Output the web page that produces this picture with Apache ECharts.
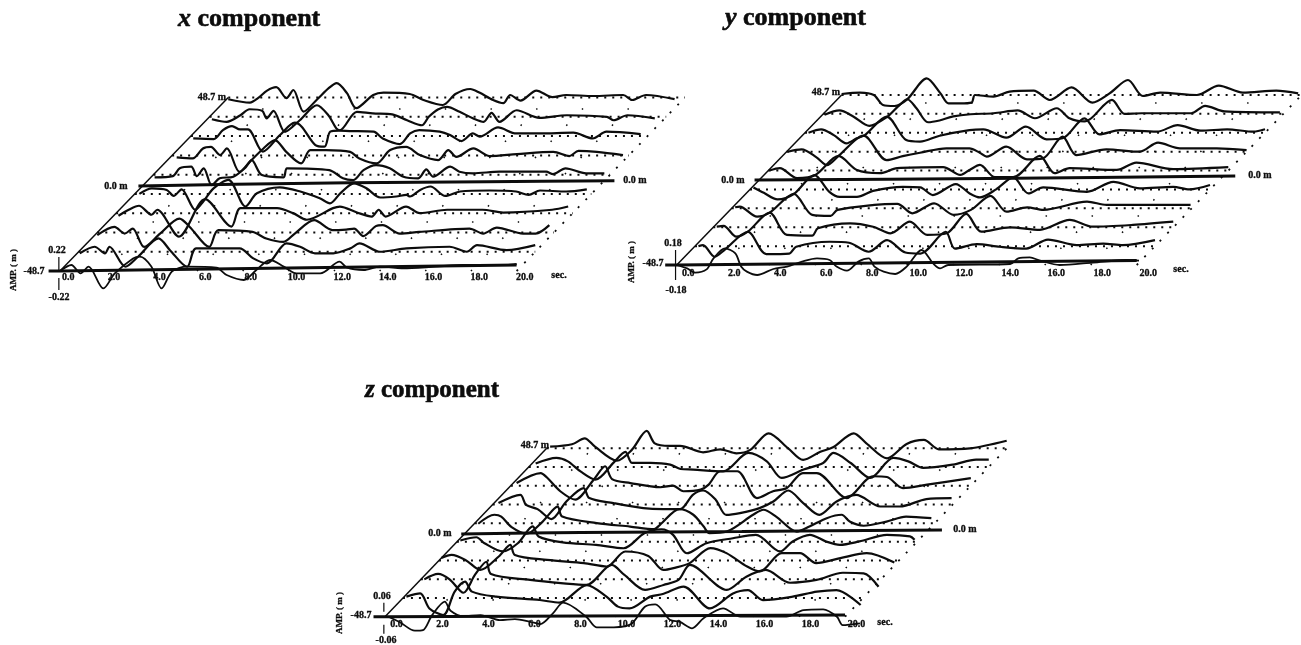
<!DOCTYPE html>
<html><head><meta charset="utf-8">
<style>html,body{margin:0;padding:0;background:#fff}#c{width:1301px;height:645px}</style>
<script src="https://cdn.jsdelivr.net/npm/echarts@6/dist/echarts.min.js"></script>
</head><body><div id="c"></div>
<script>
// Depth of each trace (m), bottom to top
const depths = [-48.7,-37.9,-27.1,-16.2,-5.4,0,5.4,16.2,27.1,37.9,48.7];
const timeTicks = [0,2,4,6,8,10,12,14,16,18,20];
// Each trace: [time s, amplitude in % of the panel's full scale]
const traceX0=[[0,0],[.5,30],[.9,-12],[1.25,22],[1.9,-87],[2.4,-12],[3.2,63],[3.5,72],[4,22],[4.45,-87],[4.9,-3],[5.55,22],[6.85,17],[7.3,-20],[8.05,-45],[8.6,5],[9.2,55],[9.8,22],[10.35,-12],[11.4,-12],[12.25,47],[12.55,18],[13.3,5],[14,22],[15.2,13],[17.65,30],[19.55,30],[20,35]];
const traceX1=[[.05,-8],[.7,25],[1.15,-8],[1.35,25],[2.05,-75],[2.6,-25],[3.5,67],[4,8],[4.75,-75],[5.15,17],[7.05,17],[7.65,-33],[8.25,-58],[9.1,42],[9.7,25],[10.35,-8],[11.15,-8],[11.9,17],[12.3,42],[13.2,0],[14.35,17],[16.25,25],[17,0],[17.45,33],[18.75,8],[20,33]];
const traceX2=[[0,-13],[.75,28],[1.2,-5],[1.55,20],[2.05,-72],[2.75,-5],[3.6,70],[4.05,28],[4.9,-72],[5.3,12],[6.8,3],[7.4,-30],[8.15,-47],[8.65,-5],[9.5,62],[10.3,12],[10.9,15],[11.25,20],[11.65,-18],[12.2,32],[12.5,37],[13.25,-5],[14.1,3],[16.3,20],[16.9,-5],[17.5,25],[18.65,-5],[19.2,-5],[19.8,37]];
const traceX3=[[.1,-13],[.55,17],[1,37],[1.55,-8],[1.8,17],[2.75,-117],[3.9,70],[5.05,-67],[5.45,25],[7.05,25],[7.75,0],[8.35,-33],[9.5,25],[9.8,33],[10.55,3],[11.2,-17],[11.5,17],[11.8,-17],[12.7,33],[13.3,0],[14.5,17],[16.05,17],[16.95,3],[19.1,17],[19.8,33]];
const traceX4=[[.2,0],[.75,28],[1.4,20],[1.7,-10],[2.05,23],[2.65,-80],[3,-38],[3.45,28],[4.1,70],[4.85,-63],[5.35,3],[6.35,33],[7.25,12],[8.1,-22],[8.55,-47],[9,3],[9.6,53],[10.15,28],[10.75,-18],[11.45,-13],[11.9,-5],[12.05,-13],[12.5,20],[12.95,37],[13.6,-10],[14.25,12],[15.55,17],[16.7,12],[17.25,-5],[17.75,17],[18.9,12],[19.8,23]];
const traceX5=[[-.25,-8],[4,0],[9,8],[15,13],[20.6,18]];
const traceX6=[[.05,-13],[.85,-7],[1.15,32],[1.65,40],[1.9,-7],[2.2,32],[2.55,-52],[2.9,-18],[3.5,-10],[4,32],[4.3,73],[4.75,-2],[5.7,-13],[5.85,32],[7.7,23],[8.3,-18],[8.75,-27],[9.2,23],[9.75,48],[10.35,32],[10.95,-10],[11.6,-18],[11.95,27],[12.25,-10],[13,40],[13.4,15],[14,7],[15.15,15],[17.2,15],[17.5,3],[18.05,32],[18.95,7],[19.75,7]];
const traceX7=[[.2,-10],[.9,-15],[1.35,35],[1.7,43],[2.1,2],[2.4,35],[2.95,-82],[3.4,-32],[4,35],[4.5,77],[5,18],[5.65,-40],[6.05,27],[6.75,27],[7.8,18],[8.2,-15],[8.95,-40],[9.55,27],[10.25,43],[10.85,2],[11.65,-23],[12.1,27],[12.45,-7],[13.2,35],[13.9,-3],[15.1,7],[16.7,18],[17.4,-3],[17.8,23],[18.6,18],[19.75,2]];
const traceX8=[[.1,-12],[1,-15],[1.4,30],[1.8,50],[2.15,33],[2.5,33],[3.15,-78],[3.9,5],[4.55,67],[4.85,47],[5.45,-45],[5.85,-53],[6.1,22],[6.5,27],[6.95,25],[8,22],[8.4,-12],[9.15,-40],[9.6,13],[10,30],[10.9,22],[11.35,5],[11.85,-25],[12.35,13],[12.65,-3],[13.45,43],[14.25,13],[15.3,13],[16.75,17],[17.6,-12],[18.2,22],[19.7,10]];
const traceX9=[[.1,-12],[.75,-25],[1.35,8],[1.75,38],[2.3,30],[2.5,-8],[2.8,30],[3.3,-75],[3.95,-17],[4.7,58],[5.2,8],[5.55,-58],[5.7,-67],[6.45,25],[7.15,17],[8,12],[8.65,-17],[9.3,-42],[9.6,0],[10,37],[10.4,50],[10.95,25],[11.55,-8],[12,-25],[12.35,20],[12.7,-25],[13.45,33],[14.45,-5],[15.65,8],[17.4,0],[17.7,-17],[18.3,8],[19.5,-8]];
const traceX10=[[0,-8],[.95,-25],[1.3,-3],[1.7,35],[2.1,52],[2.55,-3],[2.85,38],[3.3,-70],[3.9,-8],[4.4,47],[4.75,72],[5.2,22],[5.6,-53],[6.35,13],[6.8,25],[7.95,18],[8.55,-12],[9.4,-37],[9.95,18],[10.6,43],[11,25],[11.6,-12],[12.05,-28],[12.35,13],[12.8,-15],[13.5,35],[14.2,2],[14.8,13],[16,8],[17.3,13],[17.7,-12],[18.3,13],[19.55,-8]];

const traceY0=[[0,0],[.45,-17],[.8,-38],[1.3,-22],[1.6,33],[2.1,83],[2.55,58],[2.8,-8],[3.05,-33],[3.5,-50],[4.2,-20],[4.8,-8],[5.45,17],[6.1,33],[6.65,25],[6.95,-8],[7.4,-28],[7.9,17],[8.35,33],[8.6,-8],[9,-33],[9.5,-45],[10,-8],[10.65,75],[11.15,8],[11.45,-17],[11.8,0],[14.5,5],[14.85,33],[15.35,38],[15.8,22],[16.65,0],[18.1,12],[19.55,25],[20.1,22]];
const traceY1=[[.15,0],[.35,5],[.85,-53],[1.3,-17],[2.3,72],[3.1,-40],[4.1,-37],[4.4,-3],[5.85,22],[6.7,17],[7.55,-28],[8.35,30],[9.15,-32],[9.8,-37],[10.9,72],[11.3,-12],[12.25,10],[13.25,-3],[14.4,-12],[15.35,33],[16.6,5],[17.75,13],[18.6,5],[20,30]];
const traceY2=[[.15,3],[.45,7],[1,-47],[1.5,-22],[2.45,73],[3.2,-38],[4.3,-42],[4.55,-5],[5.95,20],[6.95,3],[7.7,-30],[8.55,28],[9.3,-38],[10.15,-30],[11,67],[11.65,-22],[12.9,0],[14.2,-13],[15.5,37],[16.5,3],[18.25,12],[20,28]];
const traceY3=[[.15,5],[.35,8],[1.1,-42],[1.65,-22],[2.7,72],[3.5,-33],[4.3,-38],[4.6,-8],[6.2,17],[7.2,22],[7.85,-25],[8.8,25],[9.65,-33],[10.4,-8],[11.25,62],[11.95,-17],[12.85,5],[13.55,-8],[15.45,33],[16.3,17],[18.05,17],[19.95,17]];
const traceY4=[[.15,10],[.6,-17],[1.2,-50],[1.9,-23],[2.8,72],[3.45,-12],[3.9,-37],[4.65,-37],[5.35,-7],[6.65,13],[7.4,10],[7.95,-28],[8.95,27],[9.55,-20],[10,-40],[10.7,0],[11.45,60],[12.1,-20],[12.75,10],[14.65,-12],[15.8,38],[16.95,5],[18.4,13],[19.1,0],[20,22]];
const traceY5=[[-.2,0],[10,8],[20.7,20]];
const traceY6=[[.05,0],[.5,12],[1.25,-38],[2.05,-22],[3.05,73],[3.85,3],[4.85,-13],[5.6,12],[7.6,17],[8.35,-22],[8.75,3],[9.2,28],[9.85,-33],[10.65,-33],[11.8,73],[12.45,-13],[13.1,12],[15.15,3],[16,40],[17.6,7],[20,17]];
const traceY7=[[.05,0],[.65,12],[1.3,-28],[1.75,-67],[2.25,-22],[3.35,80],[4.35,-42],[5.05,-22],[5.8,-5],[6.95,17],[7.95,17],[8.4,-5],[8.7,-25],[9.55,25],[10.45,-38],[11.15,-33],[12,75],[12.6,-17],[13.9,12],[15.35,0],[16.15,45],[17.1,17],[18.7,17],[20,8]];
const traceY8=[[.15,0],[.7,17],[1.25,-12],[1.8,-53],[2.25,-28],[2.6,-12],[3.55,80],[4.4,-37],[5,-45],[5.85,-15],[7.15,13],[7.75,17],[8.75,-25],[9.6,30],[10.5,-33],[11.2,-28],[12.15,72],[12.8,-8],[13.7,13],[15.3,5],[16.2,38],[17.2,10],[18.35,17],[19.5,5],[20,17]];
const traceY9=[[.05,-5],[.7,17],[1.3,-13],[2,-60],[2.75,-17],[3.25,37],[3.65,73],[4.05,28],[4.55,-42],[5.05,-33],[5.65,-13],[6.4,-2],[7.4,3],[8.45,17],[9.2,-22],[10.15,28],[10.7,-22],[11.35,-38],[11.65,-22],[12.55,70],[13.1,0],[13.85,3],[16,3],[16.6,40],[17.45,12],[19.85,7]];
const traceY10=[[0,5],[.8,12],[1.4,0],[1.8,-50],[2.3,-55],[2.85,-22],[3.7,83],[4.3,8],[4.65,-42],[5.15,-42],[5.65,-38],[5.8,0],[6.6,-8],[7.3,17],[8.35,22],[9.05,-25],[10,38],[10.9,-38],[11.65,8],[12.45,75],[13.1,-5],[13.85,12],[15.45,0],[16.4,47],[17.45,12],[18.9,22],[19.85,8]];

const traceZ0=[[.15,0],[.65,-28],[1.3,-70],[1.65,-67],[2.05,8],[2.6,75],[2.85,30],[3.4,3],[4.15,8],[5,-17],[5.65,-12],[6.3,-25],[6.75,-37],[7.3,17],[7.75,70],[8.75,0],[9.2,-53],[9.95,-53],[10.7,-37],[11.3,50],[11.75,62],[12.4,-17],[12.8,-25],[13.35,-58],[13.85,-8],[14.7,42],[15.45,0],[17.45,0],[18.2,33],[19.05,37],[19.65,0],[19.9,-42],[20.65,-33]];
const traceZ1=[[.15,7],[.75,23],[1.15,-52],[1.75,-85],[2.25,32],[2.7,82],[3,32],[4.05,7],[5.95,-10],[6.8,-23],[8,65],[8.85,7],[9.35,-43],[9.85,-52],[10.75,7],[11.3,20],[12.2,57],[13.35,-52],[14.35,23],[15,40],[15.65,-10],[16.95,7],[18,32],[18.85,40],[19.9,-35]];
const traceZ2=[[.15,0],[.75,27],[1.25,0],[1.85,-67],[2.35,22],[2.85,88],[3.05,27],[4.75,-3],[6.2,-20],[7.2,-28],[8.3,72],[8.85,22],[9.75,-53],[10.55,-28],[11.2,-3],[11.7,72],[13.3,-53],[14.15,13],[15,47],[16.05,-17],[17.2,-3],[18.35,33],[19.25,30],[19.9,-37]];
const traceZ3=[[.1,12],[.55,28],[1.15,3],[1.8,-47],[2.6,20],[3.1,78],[3.3,28],[4.7,3],[6.3,-13],[7.3,-30],[8.1,45],[9.1,23],[9.75,-47],[10.2,-38],[10.9,-13],[11.8,62],[12.5,37],[13.4,-30],[13.95,-55],[14.9,37],[15.7,37],[16.4,-13],[17.45,12],[18.6,37],[19.8,-10]];
const traceZ4=[[.15,7],[.85,23],[1.2,-7],[2,-48],[2.65,-7],[3.3,77],[3.55,27],[4.6,-3],[6.05,-15],[7.25,-32],[8.15,43],[8.9,63],[9.4,35],[10,-57],[10.85,-7],[12,18],[13,35],[14.05,-48],[14.6,2],[15.35,35],[16.05,2],[16.65,-15],[17.5,2],[18.7,35],[19.7,27],[19.9,10]];
const traceZ5=[[-.2,-7],[5,0],[12,5],[20.7,13]];
const traceZ6=[[.15,-3],[.85,42],[1.15,33],[1.6,-20],[2.25,-53],[2.95,8],[3.6,83],[3.8,33],[5.3,0],[6.75,-17],[7.8,-30],[8.05,-8],[8.9,70],[9.5,42],[9.95,-17],[10.2,-50],[10.95,-42],[12.1,42],[12.55,67],[13.1,33],[14,-42],[14.55,-17],[15.3,25],[15.95,42],[16.3,8],[16.9,-13],[17.9,8],[18.75,33],[19.85,25]];
const traceZ7=[[.25,7],[1.2,48],[1.45,-2],[1.95,-23],[2.55,-73],[3.2,15],[3.95,82],[4.2,32],[5.25,7],[6.55,-18],[7.4,-23],[8.15,-23],[8.7,48],[9.15,70],[9.7,23],[10.15,-52],[10.75,-43],[11.6,-18],[12.2,15],[12.85,70],[13.5,7],[14.2,-52],[14.95,15],[15.8,48],[16.85,-10],[17.7,-10],[18.85,27],[19.95,32]];
const traceZ8=[[.25,13],[1.3,63],[1.55,43],[2.15,-28],[2.8,-70],[3.6,30],[4.1,97],[4.4,33],[5.2,13],[6.5,-8],[7.05,0],[7.5,-28],[8.25,-20],[8.6,5],[9.1,72],[9.85,72],[10.7,-62],[11.4,-28],[12,-12],[12.7,63],[13.3,63],[14.6,-62],[15.75,47],[16.35,43],[17.05,-12],[18.1,5],[20,38]];
const traceZ9=[[.3,17],[1.2,45],[1.7,28],[2.25,-22],[2.9,-63],[3.7,23],[4.2,75],[4.5,20],[5.3,20],[6.15,12],[6.6,-10],[7.15,-13],[8.45,-22],[9.55,70],[10.35,28],[11,-55],[11.95,-13],[12.8,20],[13.25,70],[14,20],[14.85,-55],[15.85,45],[16.5,28],[17.15,-5],[18.45,12],[19.45,37],[20,37]];
const traceZ10=[[.15,8],[1.1,20],[1.65,50],[2.1,8],[3.05,-62],[3.7,-8],[4.35,87],[4.7,25],[5.35,12],[5.8,12],[6.8,-20],[7.55,-5],[8.25,-25],[8.85,-8],[9.65,75],[10.5,0],[11.15,-58],[11.9,-17],[12.45,5],[13.35,75],[13.9,25],[14.8,-50],[15.65,22],[16.4,42],[17.05,-5],[18.4,0],[20,38]];

const tracesX=[traceX0,traceX1,traceX2,traceX3,traceX4,traceX5,traceX6,traceX7,traceX8,traceX9,traceX10];
const tracesY=[traceY0,traceY1,traceY2,traceY3,traceY4,traceY5,traceY6,traceY7,traceY8,traceY9,traceY10];
const tracesZ=[traceZ0,traceZ1,traceZ2,traceZ3,traceZ4,traceZ5,traceZ6,traceZ7,traceZ8,traceZ9,traceZ10];

const INK='#0c0c0c', FONT='"Liberation Serif","Times New Roman",serif';
const panels=[
 {traces:tracesX,startX:60,baseY:271,pps:22.83,lead:.36,shearT:7.37,shearA:867,tilt:30,margin:1,tmax:30,tick:[[70,0],[-35,-95]]},
 {traces:tracesY,startX:676.7,baseY:265,pps:23,lead:.5,shearT:7.17,shearA:850,tilt:22,margin:3,tmax:26.6,tick:[[75,-75]]},
 {traces:tracesZ,startX:385,baseY:616.7,pps:23,lead:.5,shearT:7.03,shearA:842,tilt:8,margin:3,tmax:30,tick:[[70,25],[-40,-85]]}
];
const grids=[],xAxes=[],yAxes=[],series=[];
const AMIN=0,AMAX=1000,TMIN=-2;
panels.forEach((p,i)=>{
  const frac=d=>(d+48.7)/97.4;
  const place=(t,a,d)=>[+(t-p.lead+p.shearT*frac(d)).toFixed(3),+(a+p.shearA*frac(d)).toFixed(2)];
  grids.push({left:p.startX+(p.lead+TMIN)*p.pps,width:(p.tmax-TMIN)*p.pps,top:p.baseY-AMAX/5,height:(AMAX-AMIN)/5,containLabel:false});
  xAxes.push({type:'value',gridIndex:i,min:TMIN,max:p.tmax,splitLine:{show:false},axisTick:{show:false},axisLine:{show:false},
    axisLabel:{customValues:timeTicks,formatter:v=>v.toFixed(1),margin:p.margin,fontFamily:FONT,fontSize:10,fontWeight:'bold',color:INK,textBorderColor:INK,textBorderWidth:.3,hideOverlap:false}});
  yAxes.push({type:'value',gridIndex:i,min:AMIN,max:AMAX,show:false,splitLine:{show:false}});
  const add=(data,style,name)=>series.push({type:'line',name,xAxisIndex:i,yAxisIndex:i,data,showSymbol:false,silent:true,animation:false,clip:false,connectNulls:false,...style});
  depths.forEach((d,k)=>{ if(k!==0&&k!==5) add([place(0,0,d),place(20,0,d)],{lineStyle:{color:INK,width:2,type:[2,6]}},'zero'); });
  timeTicks.slice(1,-1).forEach(t=>add([place(t,0,depths[0]),place(t,0,depths[10])],{lineStyle:{color:INK,width:1.5,type:[1.5,21]}},'tick diagonal'));
  add([place(20,0,depths[0]),place(20,0,depths[10])],{lineStyle:{color:INK,width:1.8,type:[2,9]}},'far edge');
  add([place(0,0,depths[0]),place(0,0,depths[10])],{lineStyle:{color:INK,width:1.5}},'near edge');
  add([place(-.5,0,depths[0]),place(0,0,depths[0]),place(20,p.tilt,depths[0])],{lineStyle:{color:INK,width:3}},'front baseline');
  p.traces.forEach((tr,k)=>add(tr.map(([t,a])=>place(t,a,depths[k])),{smooth:.3,lineStyle:{color:INK,width:k===5?3:(k===0?1.8:2.2)}},'depth '+depths[k]));
  const tk=[]; p.tick.forEach(([a,b],j)=>{ if(j) tk.push([null,null]); tk.push(place(-.05,a,depths[0]),place(-.05,b,depths[0])); });
  add(tk,{lineStyle:{color:INK,width:1.2}},'amplitude tick');
});
const txt=(x,y,s,o={})=>({type:'text',x,y,rotation:o.rot||0,silent:true,style:{text:s,fill:INK,stroke:INK,lineWidth:.3,font:`bold ${o.size||10}px ${FONT}`,textAlign:o.align||'center',textVerticalAlign:'middle'}});
const labels=[
 [212,97,'48.7 m'],[116,186,'0.0 m'],[635,180,'0.0 m'],[34,271,'-48.7'],[57,250,'0.22'],[59,297,'-0.22'],[559,275,'sec.'],
 [826,92,'48.7 m'],[733,180,'0.0 m'],[1260,175,'0.0 m'],[653,263,'-48.7'],[673,243,'0.18'],[676,290,'-0.18'],[1181,269,'sec.'],
 [535,445,'48.7 m'],[440,533,'0.0 m'],[965,529,'0.0 m'],[361,615,'-48.7'],[382,596,'0.06'],[386,640,'-0.06'],[885,622,'sec.']
];
const mkTitle=(letter,left,top,size)=>{const f={fontFamily:FONT,fontSize:size,fontWeight:'bold',color:INK,textBorderColor:INK,textBorderWidth:.6};return {text:`{i|${letter}} component`,left,top,padding:0,textStyle:{...f,rich:{i:{...f,fontStyle:'italic'}}}};};
const chart=echarts.init(document.getElementById('c'),null,{renderer:'canvas'});
chart.setOption({
  backgroundColor:'#fff',animation:false,
  title:[mkTitle('x',178,6,26),mkTitle('y',725,5,26),mkTitle('z',365,378,25)],
  grid:grids,xAxis:xAxes,yAxis:yAxes,series,
  graphic:{elements:[
    ...labels.map(([x,y,s])=>txt(x,y,s)),
    txt(14,270,'AMP. ( m )',{rot:Math.PI/2,size:9}),txt(632,262,'AMP. ( m )',{rot:Math.PI/2,size:9}),txt(340,613,'AMP. ( m )',{rot:Math.PI/2,size:9})
  ]}
});
</script></body></html>
